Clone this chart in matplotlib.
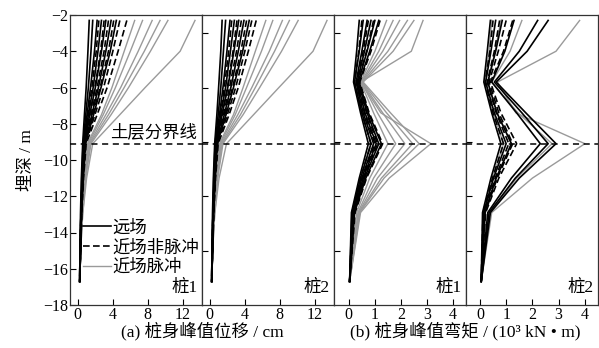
import numpy as np
import matplotlib
matplotlib.use("Agg")
import matplotlib.pyplot as plt

plt.rcParams['font.family'] = ['Liberation Serif', 'Noto Sans CJK SC']
plt.rcParams['axes.unicode_minus'] = True

# 深度节点 (m)
dep_u = [-2.3, -4, -6, -7.5, -9.1, -11, -13, -15, -16.7]
dep_m = [-2.3, -4, -5.7, -7.4, -9.1, -11, -12.9, -16.7]
layer_depth = -9.1

# 桩1 峰值位移 (cm)
u1_far = [
    [1.3, 1.15, 0.95, 0.75, 0.55, 0.4, 0.3, 0.25, 0.2],
    [1.7, 1.5, 1.2, 0.9, 0.6, 0.45, 0.35, 0.25, 0.2],
    [2.2, 1.9, 1.45, 1.05, 0.65, 0.5, 0.35, 0.25, 0.2],
    [2.7, 2.3, 1.75, 1.2, 0.7, 0.5, 0.35, 0.28, 0.22],
    [3.2, 2.7, 2.0, 1.35, 0.75, 0.55, 0.4, 0.3, 0.22],
    [3.8, 3.2, 2.35, 1.6, 0.8, 0.55, 0.4, 0.3, 0.22],
    [4.4, 3.7, 2.65, 1.8, 0.85, 0.6, 0.4, 0.3, 0.22],
]
u1_near = [
    [2.4, 2.1, 1.6, 1.15, 0.7, 0.5, 0.35, 0.25, 0.2],
    [3.0, 2.6, 1.95, 1.35, 0.75, 0.55, 0.38, 0.28, 0.22],
    [3.5, 3.0, 2.2, 1.5, 0.8, 0.55, 0.4, 0.3, 0.22],
    [4.1, 3.5, 2.55, 1.7, 0.85, 0.6, 0.4, 0.3, 0.22],
    [4.8, 4.0, 2.95, 1.95, 0.9, 0.6, 0.42, 0.3, 0.22],
    [5.6, 4.6, 3.35, 2.2, 0.95, 0.65, 0.45, 0.3, 0.22],
]
u1_pulse = [
    [6.5, 5.3, 3.9, 2.7, 1.1, 0.7, 0.45, 0.3, 0.22],
    [7.4, 6.0, 4.3, 2.9, 1.2, 0.75, 0.5, 0.3, 0.22],
    [8.5, 6.9, 4.9, 3.2, 1.3, 0.8, 0.5, 0.3, 0.22],
    [9.4, 7.6, 5.3, 3.5, 1.4, 0.85, 0.5, 0.3, 0.22],
    [10.3, 8.3, 5.8, 3.8, 1.5, 0.9, 0.55, 0.32, 0.22],
    [13.4, 11.7, 7.7, 4.8, 1.7, 1.0, 0.55, 0.32, 0.22],
]

# 桩2 峰值位移 (cm)
u2_far = [
    [1.4, 1.25, 1.0, 0.8, 0.55, 0.4, 0.3, 0.25, 0.2],
    [1.8, 1.55, 1.25, 0.95, 0.6, 0.45, 0.35, 0.25, 0.2],
    [2.3, 1.95, 1.5, 1.1, 0.65, 0.5, 0.35, 0.25, 0.2],
    [2.8, 2.35, 1.8, 1.25, 0.7, 0.5, 0.35, 0.28, 0.22],
    [3.3, 2.75, 2.05, 1.4, 0.75, 0.55, 0.4, 0.3, 0.22],
    [3.9, 3.25, 2.4, 1.65, 0.8, 0.55, 0.4, 0.3, 0.22],
    [4.5, 3.75, 2.7, 1.85, 0.85, 0.6, 0.4, 0.3, 0.22],
]
u2_near = [
    [2.5, 2.15, 1.65, 1.2, 0.7, 0.5, 0.35, 0.25, 0.2],
    [3.1, 2.65, 2.0, 1.4, 0.75, 0.55, 0.38, 0.28, 0.22],
    [3.6, 3.05, 2.25, 1.55, 0.8, 0.55, 0.4, 0.3, 0.22],
    [4.2, 3.55, 2.6, 1.75, 0.85, 0.6, 0.4, 0.3, 0.22],
    [4.8, 4.0, 2.95, 2.0, 0.9, 0.6, 0.42, 0.3, 0.22],
    [5.3, 4.4, 3.25, 2.2, 0.95, 0.65, 0.45, 0.3, 0.22],
]
u2_pulse = [
    [6.4, 5.2, 3.8, 2.7, 1.1, 0.7, 0.45, 0.3, 0.22],
    [7.2, 5.9, 4.2, 2.9, 1.2, 0.75, 0.5, 0.3, 0.22],
    [8.3, 6.8, 4.8, 3.2, 1.3, 0.8, 0.5, 0.3, 0.22],
    [9.1, 7.4, 5.2, 3.5, 1.4, 0.85, 0.5, 0.3, 0.22],
    [10.1, 8.2, 5.7, 3.8, 1.5, 0.9, 0.55, 0.32, 0.22],
    [13.4, 11.8, 7.9, 5.0, 1.9, 1.05, 0.55, 0.32, 0.22],
]

# 桩1 峰值弯矩 (10^3 kN·m)
m1_far = [
    [0.40, 0.30, 0.18, 0.45, 0.75, 0.40, 0.10, 0.03],
    [0.55, 0.40, 0.22, 0.50, 0.85, 0.45, 0.12, 0.03],
    [0.70, 0.50, 0.28, 0.55, 0.95, 0.50, 0.15, 0.03],
    [0.85, 0.60, 0.32, 0.62, 1.05, 0.55, 0.18, 0.03],
    [1.00, 0.70, 0.36, 0.70, 1.15, 0.60, 0.20, 0.03],
    [1.15, 0.80, 0.40, 0.75, 1.25, 0.65, 0.22, 0.03],
]
m1_near = [
    [0.50, 0.38, 0.22, 0.50, 0.85, 0.45, 0.14, 0.03],
    [0.75, 0.55, 0.30, 0.60, 1.00, 0.52, 0.17, 0.03],
    [0.95, 0.68, 0.35, 0.68, 1.10, 0.58, 0.20, 0.03],
    [1.20, 0.85, 0.42, 0.78, 1.30, 0.68, 0.24, 0.03],
]
m1_pulse = [
    [1.45, 1.00, 0.45, 0.95, 1.50, 0.80, 0.30, 0.03],
    [1.70, 1.15, 0.48, 1.10, 1.80, 0.95, 0.35, 0.03],
    [1.95, 1.30, 0.50, 1.30, 2.15, 1.10, 0.38, 0.03],
    [2.25, 1.50, 0.52, 1.45, 2.45, 1.25, 0.40, 0.03],
    [2.50, 1.70, 0.55, 1.60, 2.70, 1.35, 0.42, 0.03],
    [2.85, 2.40, 0.46, 1.23, 3.15, 1.55, 0.45, 0.03],
]

# 桩2 峰值弯矩 (10^3 kN·m)
m2_far = [
    [0.40, 0.28, 0.15, 0.45, 0.80, 0.42, 0.10, 0.05],
    [0.60, 0.42, 0.22, 0.55, 1.00, 0.52, 0.14, 0.05],
    [0.85, 0.60, 0.30, 0.65, 1.20, 0.62, 0.18, 0.05],
    [1.30, 0.95, 0.45, 1.40, 2.30, 1.20, 0.30, 0.05],
    [2.20, 1.50, 0.55, 1.60, 2.60, 1.35, 0.35, 0.05],
    [2.60, 1.80, 0.62, 1.75, 2.90, 1.50, 0.40, 0.05],
]
m2_near = [
    [0.50, 0.38, 0.20, 0.50, 0.90, 0.48, 0.12, 0.05],
    [0.75, 0.55, 0.28, 0.62, 1.10, 0.58, 0.16, 0.05],
    [1.00, 0.70, 0.35, 0.72, 1.25, 0.66, 0.20, 0.05],
    [1.25, 0.90, 0.40, 0.80, 1.40, 0.72, 0.22, 0.05],
]
m2_pulse = [
    [0.45, 0.35, 0.20, 0.50, 0.90, 0.48, 0.14, 0.05],
    [0.80, 0.58, 0.30, 0.65, 1.20, 0.62, 0.20, 0.05],
    [1.60, 1.15, 0.45, 1.45, 2.75, 1.40, 0.38, 0.05],
    [3.80, 2.90, 0.67, 1.37, 4.00, 2.00, 0.45, 0.05],
]

yticks_main = [-18, -16, -14, -12, -10, -8, -6, -4, -2]
yticks_other = [-15, -12, -9, -6, -3]
xticks_u = [0, 4, 8, 12]
xticks_m = [0, 1, 2, 3, 4]

gray = '#9a9a9a'
cn_size = 12.5
tick_size = 11.5

fig = plt.figure(figsize=(5.99, 3.48), dpi=100)
left, right, bottom, top = 70 / 599, 598 / 599, 1 - 305 / 348, 1 - 15 / 348
w = (right - left) / 4
axes = [fig.add_axes([left + i * w, bottom, w, top - bottom]) for i in range(4)]

panels = [
    (u1_far, u1_near, u1_pulse, dep_u, (-0.9, 14.2), xticks_u, '桩1'),
    (u2_far, u2_near, u2_pulse, dep_u, (-0.9, 14.2), xticks_u, '桩2'),
    (m1_far, m1_near, m1_pulse, dep_m, (-0.57, 4.5), xticks_m, '桩1'),
    (m2_far, m2_near, m2_pulse, dep_m, (-0.53, 4.5), xticks_m, '桩2'),
]

for i, (ax, (far, near, pulse, dep, xl, xt, name)) in enumerate(zip(axes, panels)):
    for k, v in enumerate(pulse):
        ax.plot(v, dep, color=gray, lw=1.0, label='近场脉冲' if k == 0 else None, zorder=2)
    for k, v in enumerate(far):
        ax.plot(v, dep, color='black', lw=1.2, label='远场' if k == 0 else None, zorder=3)
    for k, v in enumerate(near):
        ax.plot(v, dep, color='black', lw=1.2, ls=(0, (4, 2)),
                label='近场非脉冲' if k == 0 else None, zorder=3)
    ax.axhline(layer_depth, color='black', lw=1.1, ls=(0, (4, 3)), zorder=4)
    ax.set_xlim(*xl)
    ax.set_ylim(-18, -2)
    ax.set_xticks(xt)
    ax.tick_params(direction='in', length=4, width=0.8, labelsize=tick_size, pad=1.5)
    if i == 0:
        ax.set_yticks(yticks_main)
    else:
        ax.set_yticks(yticks_other)
        ax.set_yticklabels([])
    for s in ax.spines.values():
        s.set_linewidth(0.9)
        s.set_color('#333333')
    ax.text(0.97, 0.03, name, transform=ax.transAxes, ha='right', va='bottom',
            fontsize=cn_size)

axes[0].text(0.96, -8.95, '土层分界线', transform=axes[0].get_yaxis_transform(),
             ha='right', va='bottom', fontsize=cn_size)
axes[0].set_ylabel('埋深 / m', fontsize=cn_size, labelpad=6)

h, l = axes[0].get_legend_handles_labels()
order = [l.index('远场'), l.index('近场非脉冲'), l.index('近场脉冲')]
axes[0].legend([h[j] for j in order], [l[j] for j in order], loc='lower left',
               bbox_to_anchor=(0.1, 0.1), frameon=False, fontsize=cn_size,
               handlelength=1.6, handletextpad=0.1, labelspacing=0.2, borderpad=0,
               borderaxespad=0)

fig.text(202 / 599, 1 - 331 / 348, '(a) 桩身峰值位移 / cm', ha='center', va='center',
         fontsize=cn_size)
fig.text(465 / 599, 1 - 331 / 348, '(b) 桩身峰值弯矩 / (10³ kN • m)', ha='center',
         va='center', fontsize=cn_size)

fig.savefig('out.png', dpi=100)
